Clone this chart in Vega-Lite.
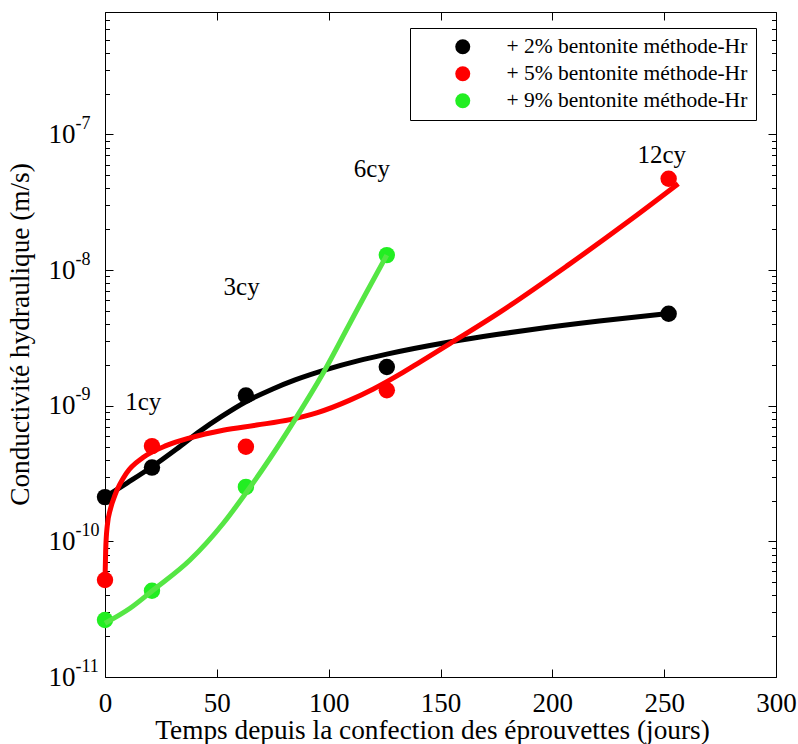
{
  "$schema": "https://vega.github.io/schema/vega-lite/v6.json",
  "width": 671,
  "height": 665,
  "autosize": {"type": "none"},
  "padding": {"left": 105, "top": 12, "right": 22, "bottom": 67},
  "background": "white",
  "config": {
    "view": {"stroke": null},
    "font": "Liberation Serif",
    "axis": {
      "grid": false,
      "domainColor": "black",
      "domainWidth": 1,
      "tickColor": "black",
      "tickWidth": 1,
      "labelColor": "black",
      "titleColor": "black",
      "labelFont": "Liberation Serif",
      "titleFont": "Liberation Serif",
      "titleFontWeight": "normal",
      "labelFontSize": 27,
      "titleFontSize": 27.3,
      "labelOverlap": false,
      "labelFlush": false
    }
  },
  "datasets": {
    "pts": [
      {"x": 0, "y": 2.12e-10, "series": "+ 2% bentonite méthode-Hr"},
      {"x": 21, "y": 3.5e-10, "series": "+ 2% bentonite méthode-Hr"},
      {"x": 63, "y": 1.19e-9, "series": "+ 2% bentonite méthode-Hr"},
      {"x": 126, "y": 1.93e-9, "series": "+ 2% bentonite méthode-Hr"},
      {"x": 252, "y": 4.77e-9, "series": "+ 2% bentonite méthode-Hr"},
      {"x": 0, "y": 5.19e-11, "series": "+ 5% bentonite méthode-Hr"},
      {"x": 21, "y": 5.04e-10, "series": "+ 5% bentonite méthode-Hr"},
      {"x": 63, "y": 4.98e-10, "series": "+ 5% bentonite méthode-Hr"},
      {"x": 126, "y": 1.3e-9, "series": "+ 5% bentonite méthode-Hr"},
      {"x": 252, "y": 4.72e-8, "series": "+ 5% bentonite méthode-Hr"},
      {"x": 0, "y": 2.63e-11, "series": "+ 9% bentonite méthode-Hr"},
      {"x": 21, "y": 4.32e-11, "series": "+ 9% bentonite méthode-Hr"},
      {"x": 63, "y": 2.52e-10, "series": "+ 9% bentonite méthode-Hr"},
      {"x": 126, "y": 1.29e-8, "series": "+ 9% bentonite méthode-Hr"}
    ],
    "fit": [
      {"x": 0, "y": 2.12e-10, "series": "2%"},
      {"x": 10, "y": 2.7e-10, "series": "2%"},
      {"x": 21, "y": 3.55e-10, "series": "2%"},
      {"x": 32, "y": 4.8e-10, "series": "2%"},
      {"x": 42.5, "y": 6.5e-10, "series": "2%"},
      {"x": 52, "y": 8.3e-10, "series": "2%"},
      {"x": 63, "y": 1.07e-9, "series": "2%"},
      {"x": 75, "y": 1.33e-9, "series": "2%"},
      {"x": 85, "y": 1.55e-9, "series": "2%"},
      {"x": 100, "y": 1.87e-9, "series": "2%"},
      {"x": 113, "y": 2.14e-9, "series": "2%"},
      {"x": 126, "y": 2.4e-9, "series": "2%"},
      {"x": 154, "y": 2.95e-9, "series": "2%"},
      {"x": 175, "y": 3.35e-9, "series": "2%"},
      {"x": 191, "y": 3.65e-9, "series": "2%"},
      {"x": 221, "y": 4.21e-9, "series": "2%"},
      {"x": 252, "y": 4.79e-9, "series": "2%"},
      {"x": 0, "y": 5.2e-11, "series": "5%"},
      {"x": 0.3, "y": 8.5e-11, "series": "5%"},
      {"x": 1, "y": 1.3e-10, "series": "5%"},
      {"x": 2.5, "y": 1.75e-10, "series": "5%"},
      {"x": 4.5, "y": 2.2e-10, "series": "5%"},
      {"x": 9.7, "y": 3.2e-10, "series": "5%"},
      {"x": 17, "y": 4.15e-10, "series": "5%"},
      {"x": 27.6, "y": 5.1e-10, "series": "5%"},
      {"x": 38, "y": 5.8e-10, "series": "5%"},
      {"x": 52.8, "y": 6.6e-10, "series": "5%"},
      {"x": 67.8, "y": 7.2e-10, "series": "5%"},
      {"x": 82.7, "y": 7.9e-10, "series": "5%"},
      {"x": 95, "y": 8.9e-10, "series": "5%"},
      {"x": 109.5, "y": 1.1e-9, "series": "5%"},
      {"x": 120, "y": 1.33e-9, "series": "5%"},
      {"x": 131.9, "y": 1.71e-9, "series": "5%"},
      {"x": 140.8, "y": 2.1e-9, "series": "5%"},
      {"x": 154.2, "y": 2.87e-9, "series": "5%"},
      {"x": 176.6, "y": 4.9e-9, "series": "5%"},
      {"x": 206.4, "y": 1.07e-8, "series": "5%"},
      {"x": 236.2, "y": 2.43e-8, "series": "5%"},
      {"x": 256.3, "y": 4.33e-8, "series": "5%"},
      {"x": 0, "y": 2.49e-11, "series": "9%"},
      {"x": 11.2, "y": 3.21e-11, "series": "9%"},
      {"x": 21.6, "y": 4.38e-11, "series": "9%"},
      {"x": 38, "y": 7.28e-11, "series": "9%"},
      {"x": 52.9, "y": 1.36e-10, "series": "9%"},
      {"x": 63.4, "y": 2.32e-10, "series": "9%"},
      {"x": 73.8, "y": 4.1e-10, "series": "9%"},
      {"x": 85.7, "y": 8.28e-10, "series": "9%"},
      {"x": 97.6, "y": 1.75e-9, "series": "9%"},
      {"x": 109.5, "y": 4.06e-9, "series": "9%"},
      {"x": 117, "y": 6.9e-9, "series": "9%"},
      {"x": 126, "y": 1.29e-8, "series": "9%"}
    ],
    "lbl": [
      {"x": 17.1, "y": 1.07e-9, "t": "1cy"},
      {"x": 61.1, "y": 7.5e-9, "t": "3cy"},
      {"x": 119.3, "y": 5.58e-8, "t": "6cy"},
      {"x": 248.9, "y": 7.0e-8, "t": "12cy"}
    ]
  },
  "resolve": {
    "axis": {"x": "independent", "y": "independent"},
    "scale": {"color": "independent"}
  },
  "layer": [
    {
      "data": {"name": "pts"},
      "mark": {"type": "point", "filled": true, "opacity": 1, "size": 270, "shape": "circle"},
      "encoding": {
        "x": {
          "field": "x", "type": "quantitative",
          "scale": {"domain": [0, 300], "nice": false, "zero": false},
          "axis": {
            "orient": "bottom",
            "values": [0, 50, 100, 150, 200, 250, 300],
            "format": "d",
            "tickSize": -8,
            "labelFont": "Liberation Serif",
            "labelPadding": 21,
            "title": "Temps depuis la confection des éprouvettes (jours)",
            "titleFont": "Liberation Serif",
            "titlePadding": 0,
            "titleX": 327
          }
        },
        "y": {
          "field": "y", "type": "quantitative",
          "scale": {"type": "log", "domain": [1e-11, 8e-7], "nice": false},
          "axis": {
            "orient": "left",
            "values": [1e-11, 2e-11, 3e-11, 4e-11, 5e-11, 6e-11, 7e-11, 8e-11, 9e-11, 1e-10, 2e-10, 3e-10, 4e-10, 5e-10, 6e-10, 7e-10, 8e-10, 9e-10, 1e-9, 2e-9, 3e-9, 4e-9, 5e-9, 6e-9, 7e-9, 8e-9, 9e-9, 1e-8, 2e-8, 3e-8, 4e-8, 5e-8, 6e-8, 7e-8, 8e-8, 9e-8, 1e-7, 2e-7, 3e-7, 4e-7, 5e-7, 6e-7, 7e-7, 8e-7],
            "tickSize": {"condition": {"test": "abs(log(datum.value)/LN10 - round(log(datum.value)/LN10)) < 0.01", "value": -8}, "value": -4.5},
            "labelExpr": "abs(log(datum.value)/LN10 - round(log(datum.value)/LN10)) > 0.01 ? '' : '10'",
            "labelFont": "Liberation Serif",
            "labelAlign": "left",
            "labelPadding": 65,
            "title": "Conductivité hydraulique (m/s)",
            "titleFont": "Liberation Serif",
            "titlePadding": 10,
            "titleY": 322
          }
        },
        "color": {
          "field": "series", "type": "nominal",
          "scale": {
            "domain": ["+ 2% bentonite méthode-Hr", "+ 5% bentonite méthode-Hr", "+ 9% bentonite méthode-Hr"],
            "range": ["#000000", "#ff0000", "#22ee22"]
          },
          "legend": {
            "title": null,
            "orient": "none",
            "legendX": 305,
            "legendY": 16,
            "strokeColor": "black",
            "fillColor": "white",
            "padding": 8,
            "symbolType": "circle",
            "symbolSize": 225,
            "symbolStrokeWidth": 0,
            "symbolOffset": 34,
            "labelOffset": 33,
            "labelFont": "Liberation Serif",
            "labelFontSize": 21.5,
            "labelColor": "black",
            "labelLimit": 400,
            "rowPadding": 4
          }
        }
      }
    },
    {
      "data": {"name": "fit"},
      "mark": {"type": "line", "strokeWidth": 5, "interpolate": "monotone", "strokeCap": "butt"},
      "encoding": {
        "x": {
          "field": "x", "type": "quantitative",
          "scale": {"domain": [0, 300], "nice": false, "zero": false},
          "axis": {
            "orient": "top",
            "values": [0, 50, 100, 150, 200, 250, 300],
            "labels": false,
            "tickSize": -8,
            "title": null
          }
        },
        "y": {
          "field": "y", "type": "quantitative",
          "scale": {"type": "log", "domain": [1e-11, 8e-7], "nice": false},
          "axis": {
            "orient": "right",
            "values": [1e-11, 2e-11, 3e-11, 4e-11, 5e-11, 6e-11, 7e-11, 8e-11, 9e-11, 1e-10, 2e-10, 3e-10, 4e-10, 5e-10, 6e-10, 7e-10, 8e-10, 9e-10, 1e-9, 2e-9, 3e-9, 4e-9, 5e-9, 6e-9, 7e-9, 8e-9, 9e-9, 1e-8, 2e-8, 3e-8, 4e-8, 5e-8, 6e-8, 7e-8, 8e-8, 9e-8, 1e-7, 2e-7, 3e-7, 4e-7, 5e-7, 6e-7, 7e-7, 8e-7],
            "tickSize": {"condition": {"test": "abs(log(datum.value)/LN10 - round(log(datum.value)/LN10)) < 0.01", "value": -8}, "value": -4.5},
            "labels": false,
            "title": null
          }
        },
        "color": {
          "field": "series", "type": "nominal",
          "scale": {"domain": ["2%", "5%", "9%"], "range": ["#000000", "#ff0000", "#55e644"]},
          "legend": null
        }
      }
    },
    {
      "data": {"name": "lbl"},
      "mark": {"type": "text", "font": "Liberation Serif", "fontSize": 25, "color": "black", "align": "center", "baseline": "middle"},
      "encoding": {
        "x": {"field": "x", "type": "quantitative", "scale": {"domain": [0, 300], "nice": false, "zero": false}, "axis": null},
        "y": {
          "field": "y", "type": "quantitative",
          "scale": {"type": "log", "domain": [1e-11, 8e-7], "nice": false},
          "axis": {
            "orient": "left",
            "values": [1e-11, 1e-10, 1e-9, 1e-8, 1e-7],
            "labelExpr": "'-' + (-round(log(datum.value)/LN10))",
            "ticks": false,
            "tickSize": 0,
            "domain": false,
            "title": null,
            "labelFont": "Liberation Serif",
            "labelFontSize": 18,
            "labelAlign": "left",
            "labelPadding": 30,
            "labelOffset": -11
          }
        },
        "text": {"field": "t"}
      }
    }
  ]
}
